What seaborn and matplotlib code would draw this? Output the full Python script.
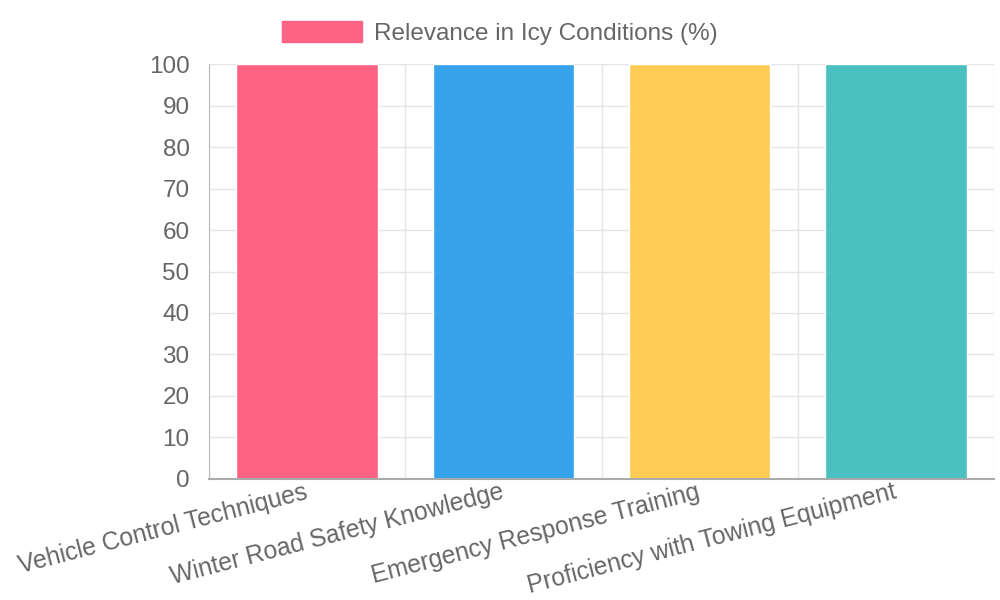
import seaborn as sns
import numpy as np
import pandas as pd
import matplotlib.pyplot as plt
import matplotlib.patches as mpatches

sns.set_style('white')
plt.rcParams['font.family'] = ['Liberation Sans', 'DejaVu Sans']

categories = ['Vehicle Control Techniques', 'Winter Road Safety Knowledge',
              'Emergency Response Training', 'Proficiency with Towing Equipment']
relevance = [100, 100, 100, 100]
series_name = 'Relevance in Icy Conditions (%)'
colors = ['#FF6384', '#36A2EB', '#FFCD56', '#4BC0C0']

df = pd.DataFrame({'skill': categories, 'value': relevance})

fig = plt.figure(figsize=(10, 6), dpi=100)
ax = fig.add_axes([0.209, 0.2017, 0.785, 0.6916])

sns.barplot(data=df, x='skill', y='value', hue='skill', palette=colors,
            width=0.72, saturation=1, legend=False, ax=ax)

ax.set_ylim(0, 100)
ax.set_xlim(-0.5, len(categories) - 0.5)
ax.set_yticks(np.arange(0, 101, 10))
ax.set_xlabel('')
ax.set_ylabel('')

# grid lines at category boundaries, like chart.js
ax.set_xticks(np.arange(-0.5, len(categories), 1), minor=True)
ax.grid(True, which='minor', axis='x', color='#e5e5e5', lw=1)
ax.grid(True, which='major', axis='y', color='#e5e5e5', lw=1)
ax.set_axisbelow(True)
ax.tick_params(axis='x', which='minor', length=13, color='#cccccc', width=1)
ax.tick_params(axis='x', which='major', length=0, pad=9)
ax.tick_params(axis='y', length=7, color='#e5e5e5', labelsize=17.5,
               labelcolor='#666666', pad=7)

ax.set_xticks(range(len(categories)))
ax.set_xticklabels(categories, rotation=14.5, ha='right', va='center',
                   rotation_mode='anchor', fontsize=17.8, color='#666666')

for side in ['top', 'right']:
    ax.spines[side].set_visible(False)
ax.spines['left'].set_color('#bbbbbb')
ax.spines['bottom'].set_color('#aaaaaa')
ax.spines['bottom'].set_linewidth(1.5)

handle = mpatches.Patch(color=colors[0], label=series_name)
fig.legend(handles=[handle], loc='upper center', bbox_to_anchor=(0.5, 0.993),
           frameon=False, fontsize=17.5, labelcolor='#666666', borderpad=0.2,
           handlelength=3.3, handleheight=0.95, handletextpad=0.5)

plt.savefig('out.png')
